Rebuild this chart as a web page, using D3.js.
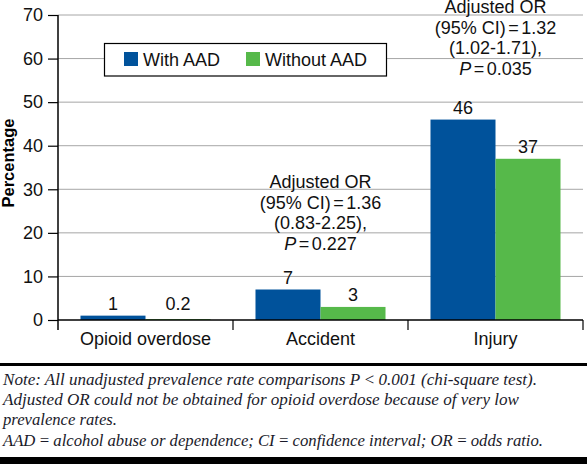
<!DOCTYPE html>
<html>
<head>
<meta charset="utf-8">
<script src="https://cdn.jsdelivr.net/npm/d3@7"></script>
<style>
  html, body { margin: 0; padding: 0; background: #fff; }
  svg { display: block; }
</style>
</head>
<body>
<svg id="chart" width="587" height="464"></svg>
<script>
// ---- data ----
const categories = ["Opioid overdose", "Accident", "Injury"];
const seriesNames = ["With AAD", "Without AAD"];
const withAAD = [1, 7, 46];
const withoutAAD = [0.2, 3, 37];
const valueLabels = [["1", "0.2"], ["7", "3"], ["46", "37"]];
const yTicks = [0, 10, 20, 30, 40, 50, 60, 70];
const annotations = [
  null,
  ["Adjusted OR", "(95% CI)=1.36", "(0.83-2.25),", "P=0.227"],
  ["Adjusted OR", "(95% CI)=1.32", "(1.02-1.71),", "P=0.035"]
];
const noteLines = [
  "Note: All unadjusted prevalence rate comparisons P\u2009<\u20090.001 (chi-square test).",
  "Adjusted OR could not be obtained for opioid overdose because of very low",
  "prevalence rates.",
  "AAD\u2009=\u2009alcohol abuse or dependence; CI\u2009=\u2009confidence interval; OR\u2009=\u2009odds ratio."
];

// ---- layout ----
const colors = ["#00529b", "#56b94a"];
const svg = d3.select("#chart");
const mLeft = 58, mRight = 583, mTop = 15, mBottom = 320;
const font = "'Liberation Sans', Arial, Helvetica, sans-serif";

const x = d3.scaleBand().domain(categories).range([mLeft, mRight]).paddingInner(0).paddingOuter(0);
const xInner = d3.scaleBand().domain(seriesNames).range([0, x.bandwidth()]).paddingOuter(0.346).paddingInner(0);
const y = d3.scaleLinear().domain([0, 70]).range([mBottom, mTop]);

// gridlines
svg.append("g").selectAll("line").data(yTicks.filter(d => d > 0)).join("line")
  .attr("x1", mLeft).attr("x2", mRight)
  .attr("y1", d => y(d)).attr("y2", d => y(d))
  .attr("stroke", "#a6a6a6").attr("stroke-width", 1);

// y axis
const yAxis = d3.axisLeft(y).tickValues(yTicks).tickSize(10).tickPadding(5).tickFormat(d3.format("d"));
const gy = svg.append("g").attr("transform", `translate(${mLeft},0)`).call(yAxis);
gy.select(".domain").remove();
gy.selectAll(".tick line").attr("stroke", "#000").attr("stroke-width", 1.2);
gy.selectAll(".tick text").attr("font-family", font).attr("font-size", 18).attr("fill", "#111");
svg.append("line").attr("x1", mLeft).attr("x2", mLeft).attr("y1", mTop).attr("y2", mBottom + 10)
  .attr("stroke", "#000").attr("stroke-width", 1.5);

// bars
const data = categories.map((c, i) => ({ cat: c, vals: [withAAD[i], withoutAAD[i]], labels: valueLabels[i] }));
const groups = svg.append("g").selectAll("g").data(data).join("g")
  .attr("transform", d => `translate(${x(d.cat)},0)`);
groups.selectAll("rect").data(d => d.vals.map((v, j) => ({ v, j }))).join("rect")
  .attr("x", d => xInner(seriesNames[d.j]))
  .attr("width", xInner.bandwidth())
  .attr("y", d => y(d.v))
  .attr("height", d => y(0) - y(d.v))
  .attr("fill", d => colors[d.j]);
groups.selectAll("text.val").data(d => d.vals.map((v, j) => ({ v, j, label: d.labels[j] }))).join("text")
  .attr("class", "val")
  .attr("x", d => xInner(seriesNames[d.j]) + xInner.bandwidth() / 2)
  .attr("y", d => Math.min(y(d.v), y(1)) - 6)
  .attr("text-anchor", "middle")
  .attr("font-family", font).attr("font-size", 18).attr("fill", "#111")
  .text(d => d.label);

// x axis
const xAxis = d3.axisBottom(x).tickSize(0).tickPadding(12);
const gx = svg.append("g").attr("transform", `translate(0,${mBottom})`).call(xAxis);
gx.select(".domain").remove();
gx.selectAll(".tick text").attr("font-family", font).attr("font-size", 18).attr("fill", "#111");
svg.append("line").attr("x1", mLeft).attr("x2", mRight).attr("y1", mBottom).attr("y2", mBottom)
  .attr("stroke", "#000").attr("stroke-width", 1.5);
const boundaries = categories.slice(1).map(c => x(c)).concat([mRight]);
svg.append("g").selectAll("line").data(boundaries).join("line")
  .attr("x1", d => d).attr("x2", d => d).attr("y1", mBottom).attr("y2", mBottom + 10)
  .attr("stroke", "#000").attr("stroke-width", 1.2);

// y title
svg.append("text")
  .attr("transform", `translate(13.5,163) rotate(-90)`)
  .attr("text-anchor", "middle")
  .attr("font-family", font).attr("font-size", 16.5).attr("font-weight", "bold").attr("fill", "#000")
  .text("Percentage");

// annotations (anchor: y-value of last line baseline)
const annotAnchor = [null, 16.1, 56.3];
annotations.forEach((lines, i) => {
  if (!lines) return;
  const cx = x(categories[i]) + x.bandwidth() / 2;
  const lastY = y(annotAnchor[i]);
  const t = svg.append("text").attr("text-anchor", "middle")
    .attr("font-family", font).attr("font-size", 18).attr("fill", "#111");
  lines.forEach((ln, k) => {
    const ts = t.append("tspan").attr("x", cx).attr("y", lastY - (lines.length - 1 - k) * 20.5);
    const parts = ln.split("=");
    let first = parts[0];
    if (first === "P") {
      ts.append("tspan").attr("font-style", "italic").text("P");
    } else {
      ts.append("tspan").text(first);
    }
    if (parts.length > 1) {
      ts.append("tspan").attr("dx", 2.5).text("=");
      ts.append("tspan").attr("dx", 2.5).text(parts[1]);
    }
  });
});

// legend
const legend = svg.append("g");
legend.append("rect").attr("x", 104.5).attr("y", 43.5).attr("width", 282).attr("height", 32.5)
  .attr("fill", "#fff").attr("stroke", "#000").attr("stroke-width", 1.2);
const legX = [124, 246];
seriesNames.forEach((s, j) => {
  legend.append("rect").attr("x", legX[j]).attr("y", 52).attr("width", 14).attr("height", 14).attr("fill", colors[j]);
  legend.append("text").attr("x", legX[j] + 19).attr("y", 65.5)
    .attr("font-family", font).attr("font-size", 18).attr("fill", "#111").text(s);
});

// rules
svg.append("rect").attr("x", 0).attr("y", 363).attr("width", 587).attr("height", 3).attr("fill", "#000");
svg.append("rect").attr("x", 0).attr("y", 457).attr("width", 587).attr("height", 7).attr("fill", "#000");

// notes
const noteY = [384.5, 404.5, 425, 446];
const noteW = [534, 516, 114, 540];
const serif = "'Liberation Serif', 'Times New Roman', serif";
noteLines.forEach((ln, i) => {
  svg.append("text").attr("x", 3).attr("y", noteY[i])
    .attr("font-family", serif).attr("font-style", "italic").attr("font-size", 16)
    .attr("fill", "#1a1a2a")
    .attr("textLength", noteW[i]).attr("lengthAdjust", "spacingAndGlyphs")
    .text(ln);
});
</script>
</body>
</html>
